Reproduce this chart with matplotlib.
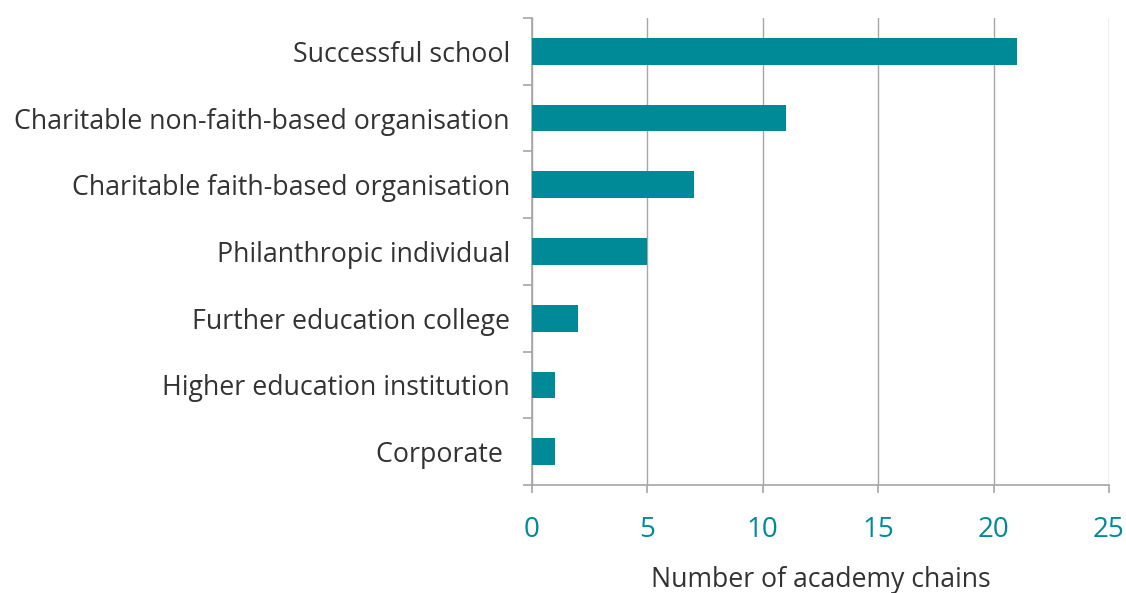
import numpy as np
import matplotlib.pyplot as plt
from matplotlib.ticker import FixedLocator

categories = ['Successful school', 'Charitable non-faith-based organisation',
              'Charitable faith-based organisation', 'Philanthropic individual',
              'Further education college', 'Higher education institution',
              'Corporate ']
counts = [21, 11, 7, 5, 2, 1, 1]
xticks = [0, 5, 10, 15, 20, 25]

teal = '#008a97'
grey = '#a6a6a6'
plt.rcParams['font.family'] = ['Open Sans', 'DejaVu Sans']

fig = plt.figure(figsize=(11.26, 5.93), dpi=100)
ax = fig.add_axes([532 / 1126, 1 - 485 / 593, (1109 - 532) / 1126, (485 - 18) / 593])

y = np.arange(len(categories))[::-1]
ax.barh(y, counts, height=0.4, color=teal, zorder=3)

ax.set_xlim(0, 25)
ax.set_ylim(-0.5, len(categories) - 0.5)
ax.set_xticks(xticks)
ax.set_yticks(y)
ax.set_yticklabels(categories)
ax.yaxis.set_minor_locator(FixedLocator(np.arange(-0.5, len(categories), 1)))

ax.grid(axis='x', color=grey, linewidth=1, zorder=0)
for s in ['top', 'right']:
    ax.spines[s].set_visible(False)
for s in ['left', 'bottom']:
    ax.spines[s].set_color(grey)
    ax.spines[s].set_linewidth(1.2)

ax.tick_params(axis='y', which='major', length=0, pad=16, labelsize=19.3, labelcolor='#333333')
ax.tick_params(axis='y', which='minor', length=6.5, color=grey, width=1.2)
ax.tick_params(axis='x', length=6, color=grey, width=1.2, pad=16,
               labelsize=20, labelcolor=teal)
ax.set_xlabel('Number of academy chains', fontsize=19.2, color='#333333', labelpad=16)

fig.savefig('out.png', dpi=100)
